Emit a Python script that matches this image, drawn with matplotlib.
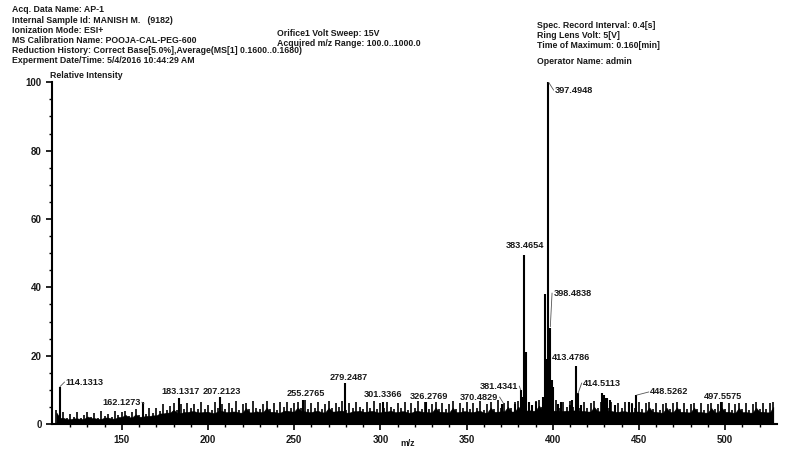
import numpy as np
import matplotlib
matplotlib.use('Agg')
import matplotlib.pyplot as plt

plt.rcParams['font.family'] = ['Liberation Sans', 'DejaVu Sans']

# baseline noise, upper envelope every 2 m/z from 112 to 528
noise_mz = np.arange(112, 529, 2)
noise_hi = [
    4.2, 2.3, 3.4, 1.8, 3.0, 2.1, 3.6, 1.9, 2.8, 3.5,
    2.2, 3.3, 1.9, 3.8, 2.4, 3.1, 2.0, 3.7, 2.6, 3.4,
    3.9, 2.5, 3.6, 4.4, 2.7, 4.0, 3.0, 4.6, 3.2, 4.8,
    3.9, 5.9, 4.2, 5.3, 6.2, 4.0, 5.8, 4.4, 6.3, 4.7,
    6.0, 4.3, 6.5, 4.5, 5.7, 4.1, 6.4, 4.8, 6.0, 4.4,
    6.1, 4.6, 6.7, 4.2, 5.9, 6.3, 4.3, 6.8, 4.7, 4.4,
    6.0, 6.9, 4.5, 6.2, 4.2, 6.4, 4.9, 6.5, 4.6, 6.1,
    6.6, 4.7, 7.0, 4.4, 6.2, 4.8, 6.5, 4.3, 6.0, 6.8,
    4.6, 6.3, 4.9, 6.9, 4.2, 6.2, 4.7, 6.6, 4.9, 4.5,
    6.4, 4.8, 6.8, 4.3, 6.1, 4.6, 6.5, 4.9, 4.4, 6.3,
    4.7, 6.6, 4.2, 6.1, 4.8, 6.8, 4.5, 6.4, 4.3, 6.0,
    6.5, 4.5, 6.2, 4.3, 6.0, 6.7, 4.4, 6.1, 4.7, 6.4,
    4.4, 6.2, 4.8, 6.8, 4.2, 6.0, 6.4, 4.5, 7.0, 4.7,
    6.3, 6.7, 4.6, 6.4, 6.9, 4.8, 7.2, 5.1, 4.9, 6.8,
    7.1, 5.0, 7.4, 5.3, 4.9, 7.0, 4.8, 6.6, 4.9, 6.9,
    5.0, 7.1, 4.8, 6.5, 4.6, 6.3, 6.8, 4.7, 6.4, 6.6,
    4.8, 6.5, 4.5, 6.3, 4.7, 6.6, 4.4, 6.2, 4.6, 6.4,
    4.3, 6.1, 6.4, 4.5, 6.2, 4.2, 6.0, 6.3, 4.4, 6.1,
    6.4, 4.5, 6.2, 4.3, 6.0, 6.3, 4.4, 6.1, 4.2, 5.9,
    6.2, 4.3, 6.0, 6.4, 4.5, 6.1, 4.2, 5.9, 6.3, 4.4,
    6.1, 4.2, 6.0, 6.4, 4.5, 6.2, 4.3, 6.3, 6.5,
]

# peaks (m/z, relative intensity)
peak_mz = [114.13, 162.13, 183.13, 207.21, 255.28, 279.25, 301.34, 326.28,
           370.48, 378.0, 381.43, 382.3, 383.47, 384.3, 386.0, 388.0, 390.0,
           394.6, 395.5, 396.3, 397.49, 398.48, 399.4, 400.2, 403.0, 405.0,
           410.0, 411.0, 413.48, 414.51, 416.5, 428.5, 429.5, 430.5, 431.5,
           433.0, 436.0, 444.0, 446.0, 448.53, 497.56]
peak_int = [11, 6.5, 7.5, 8, 7, 12, 6.5, 6.5,
            5.8, 6, 10, 8, 49.5, 21, 6.5, 5.5, 6.5,
            8, 38, 19, 100, 28, 13, 11, 6, 6.5,
            5.5, 7, 17, 9, 5.5, 9, 8.5, 7.5, 7.5,
            7, 5.5, 6.5, 6, 8.5, 6.5]

# labels: text, peak (x, y) for a leader line, text position, alignment
labels = [
    ('114.1313', (114.13, 11), (117.5, 12.3), 'left'),
    ('162.1273', (162.8, 6.0), (160.8, 6.4), 'right'),
    ('183.1317', None, (184.3, 9.6), 'center'),
    ('207.2123', None, (208.1, 9.6), 'center'),
    ('255.2765', None, (257.0, 9.0), 'center'),
    ('279.2487', None, (281.5, 13.7), 'center'),
    ('301.3366', None, (301.5, 8.8), 'center'),
    ('326.2769', None, (328.0, 8.2), 'center'),
    ('370.4829', (371.5, 6.0), (368.4, 7.9), 'right'),
    ('381.4341', (381.4, 10), (379.8, 11.1), 'right'),
    ('383.4654', None, (384.0, 52.3), 'center'),
    ('397.4948', (397.6, 100), (401.3, 97.7), 'left'),
    ('398.4838', (398.6, 28.5), (400.4, 38.3), 'left'),
    ('413.4786', None, (410.5, 19.6), 'center'),
    ('414.5113', (414.7, 9), (417.6, 12.0), 'left'),
    ('448.5262', (448.8, 8.5), (456.5, 9.4), 'left'),
    ('497.5575', None, (498.8, 8.2), 'center'),
]

fig = plt.figure(figsize=(7.87, 4.62), dpi=100)
ax = fig.add_axes([0.066, 0.082, 0.921, 0.74])

# solid part of the noise band under the spikes
hi = np.array(noise_hi)
floor = np.minimum(hi, np.roll(hi, 1)) * 0.8
ax.fill_between(noise_mz, 0, floor, color='black', linewidth=0.4)
ax.vlines(noise_mz, 0, noise_hi, color='black', linewidth=1.2)
ax.vlines(peak_mz, 0, peak_int, color='black', linewidth=1.5)

for txt, peak, pos, ha in labels:
    ax.text(pos[0], pos[1], txt, fontsize=6.6, fontweight='bold', ha=ha, va='center', color='#1a1a1a')
    if peak is not None:
        if ha == 'left':
            start = (pos[0] - 0.8, pos[1])
        else:
            start = (pos[0] + 0.8, pos[1])
        ax.plot([start[0], peak[0]], [start[1], peak[1]], color='#555555', linewidth=0.6)

ax.set_xlim(109.4, 530)
ax.set_ylim(0, 100)
ax.set_xticks([150, 200, 250, 300, 350, 400, 450, 500])
ax.set_xticks(np.arange(120, 530, 10), minor=True)
ax.set_yticks([0, 20, 40, 60, 80, 100])
ax.set_yticks(np.arange(0, 101, 5), minor=True)
ax.tick_params(which='major', direction='out', length=4, width=1.2, labelsize=7)
ax.tick_params(which='minor', direction='out', length=2.5, width=1.0)
for lbl in ax.get_xticklabels() + ax.get_yticklabels():
    lbl.set_fontweight('bold')
    lbl.set_color('#1a1a1a')
for s in ['top', 'right']:
    ax.spines[s].set_visible(False)
for s in ['left', 'bottom']:
    ax.spines[s].set_linewidth(1.5)

header_left = [
    'Acq. Data Name: AP-1',
    'Internal Sample Id: MANISH M.   (9182)',
    'Ionization Mode: ESI+',
    'MS Calibration Name: POOJA-CAL-PEG-600',
    'Reduction History: Correct Base[5.0%],Average(MS[1] 0.1600..0.1680)',
    'Experment Date/Time: 5/4/2016 10:44:29 AM',
]
header_mid = ['Orifice1 Volt Sweep: 15V', 'Acquired m/z Range: 100.0..1000.0']
header_right = ['Spec. Record Interval: 0.4[s]', 'Ring Lens Volt: 5[V]',
                'Time of Maximum: 0.160[min]']

W, H = 787.0, 462.0
def put(px, py, s):
    fig.text(px / W, 1 - py / H, s, fontsize=6.3, fontweight='bold',
             ha='left', va='center', color='#1a1a1a')

for i, s in enumerate(header_left):
    put(12, 10 + i * 10.1, s)
for i, s in enumerate(header_mid):
    put(277, 34 + i * 10, s)
for i, s in enumerate(header_right):
    put(537, 26 + i * 10, s)
put(537, 62, 'Operator Name: admin')
put(50, 75, 'Relative Intensity')
put(400, 443, 'm/z')

fig.savefig('out.png', dpi=100)
